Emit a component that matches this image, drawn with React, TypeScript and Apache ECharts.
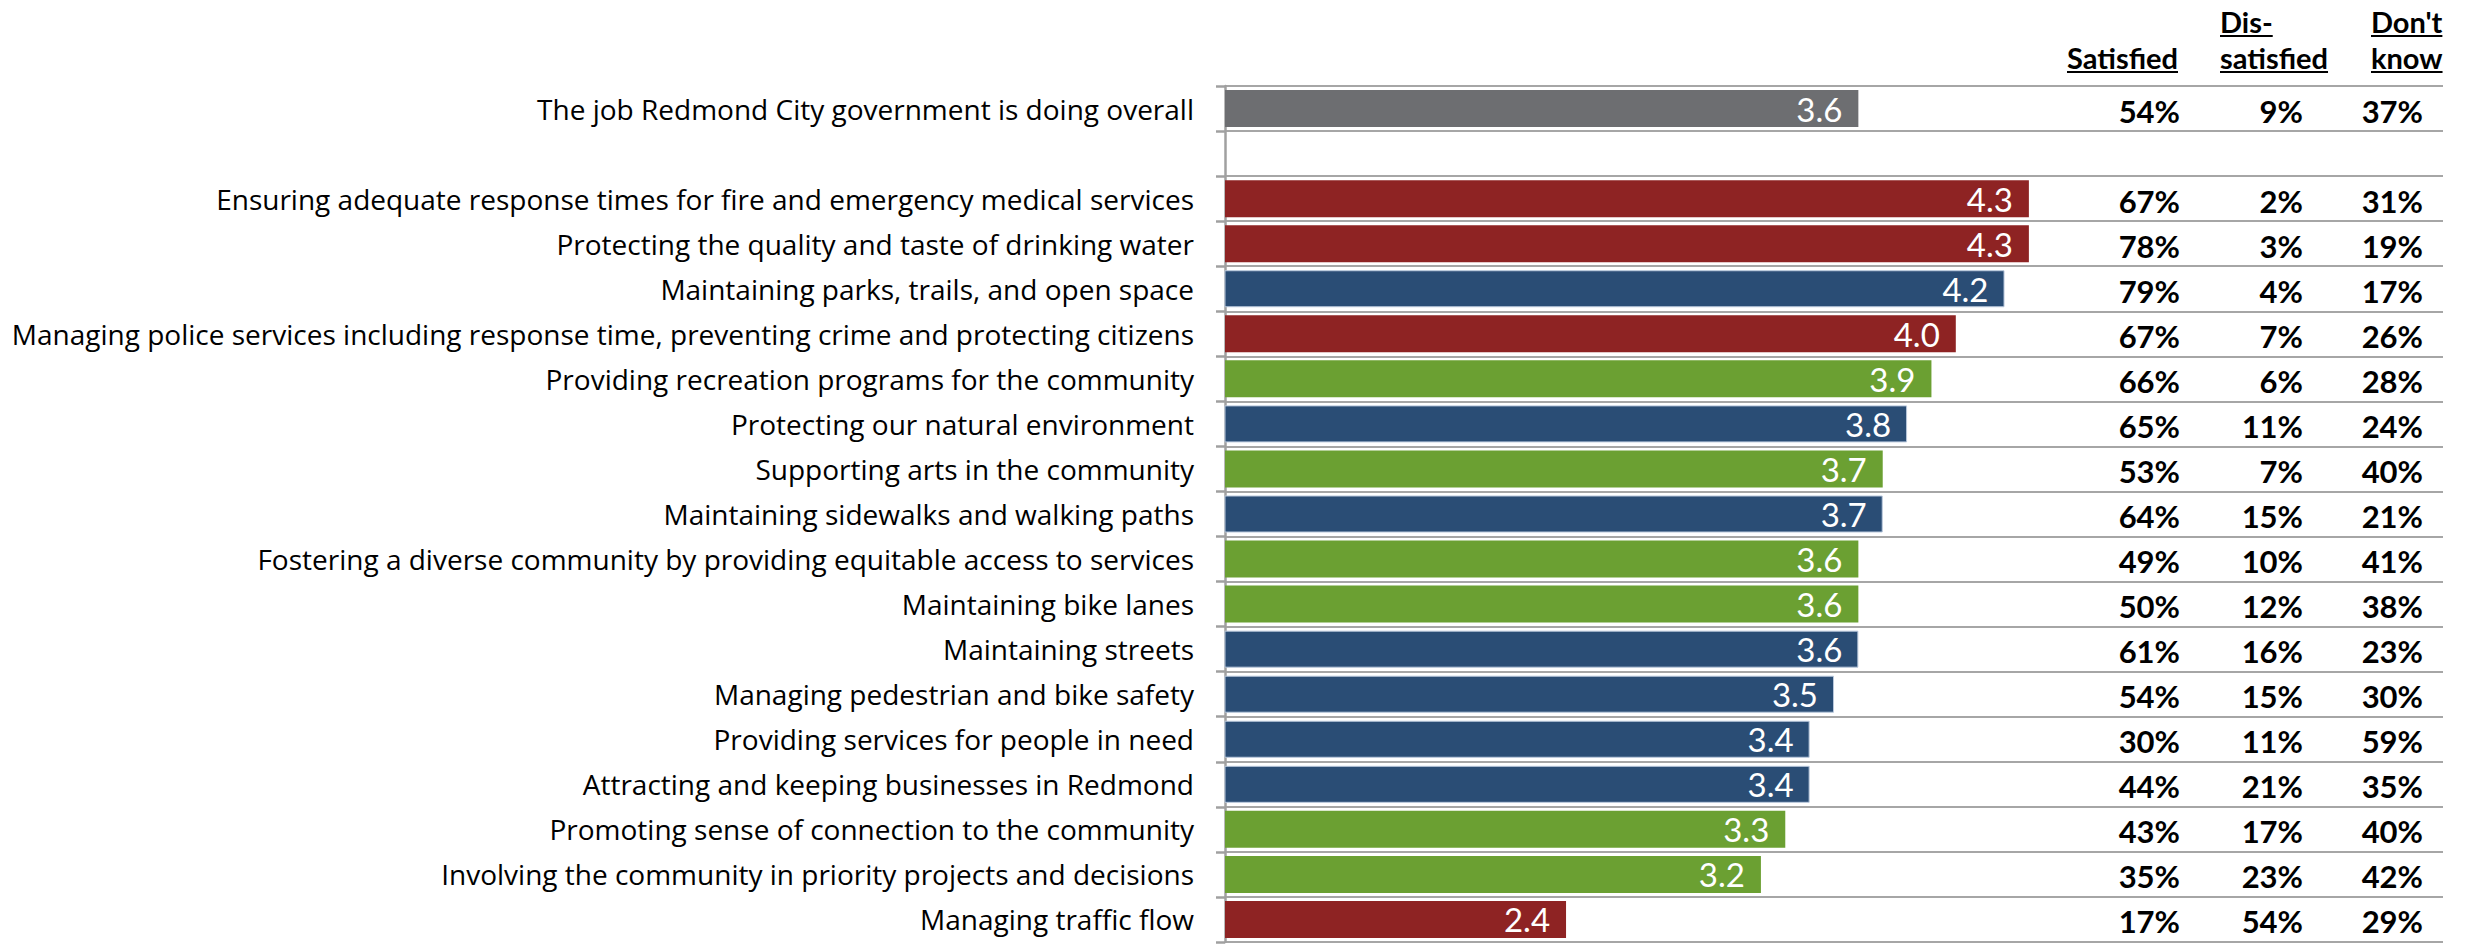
import React, { useEffect, useRef } from 'react';
import * as echarts from 'echarts';

// Service areas, top to bottom (the empty entry is a spacer row)
const CATEGORIES = [
  'The job Redmond City government is doing overall',
  '',
  'Ensuring adequate response times for fire and emergency medical services',
  'Protecting the quality and taste of drinking water',
  'Maintaining parks, trails, and open space',
  'Managing police services including response time, preventing crime and protecting citizens',
  'Providing recreation programs for the community',
  'Protecting our natural environment',
  'Supporting arts in the community',
  'Maintaining sidewalks and walking paths',
  'Fostering a diverse community by providing equitable access to services',
  'Maintaining bike lanes',
  'Maintaining streets',
  'Managing pedestrian and bike safety',
  'Providing services for people in need',
  'Attracting and keeping businesses in Redmond',
  'Promoting sense of connection to the community',
  'Involving the community in priority projects and decisions',
  'Managing traffic flow',
];

// Mean satisfaction score (1–5 scale)
const SCORES = [3.6, null, 4.3, 4.3, 4.2, 4.0, 3.9, 3.8, 3.7, 3.7, 3.6, 3.6, 3.6, 3.5, 3.4, 3.4, 3.3, 3.2, 2.4];

// Service group of each row, used for the bar colour
const GROUPS = [
  'overall', null, 'safety', 'safety', 'infrastructure', 'safety', 'community', 'infrastructure',
  'community', 'infrastructure', 'community', 'community', 'infrastructure', 'infrastructure',
  'infrastructure', 'infrastructure', 'community', 'community', 'safety',
];

const SATISFIED = [54, null, 67, 78, 79, 67, 66, 65, 53, 64, 49, 50, 61, 54, 30, 44, 43, 35, 17];
const DISSATISFIED = [9, null, 2, 3, 4, 7, 6, 11, 7, 15, 10, 12, 16, 15, 11, 21, 17, 23, 54];
const DONT_KNOW = [37, null, 31, 19, 17, 26, 28, 24, 40, 21, 41, 38, 23, 30, 59, 35, 40, 42, 29];

const COLUMN_HEADERS = [['Satisfied'], ['Dis-', 'satisfied'], ["Don't", 'know']];

const GROUP_COLORS: Record<string, string> = {
  overall: '#6D6E71',
  safety: '#8E2323',
  infrastructure: '#2A4D75',
  community: '#6BA032',
};

const LABEL_FONT = 'Open Sans';
const TABLE_FONT = 'Lato';
const GRID_LINE = '#A6A6A6';

// table column geometry: right edge of the percentages, header anchor and alignment
const COLUMNS = [
  { right: 2180, headerX: 2178, headerAlign: 'right' },
  { right: 2303, headerX: 2220, headerAlign: 'left' },
  { right: 2423, headerX: 2371, headerAlign: 'left' },
];
const HEADER_SIZE = 29;
const HEADER_LINE_Y = [21, 57];

export default function App() {
  const ref = useRef<HTMLDivElement>(null);

  useEffect(() => {
    document.body.style.margin = '0';
    const chart = echarts.init(ref.current!, null, { renderer: 'svg' });

    const barData = SCORES.map((v, i) => {
      const g = GROUPS[i];
      const color = g ? GROUP_COLORS[g] : '#000';
      return {
        value: v,
        itemStyle:
          g === 'infrastructure'
            ? { color, borderColor: '#B9C8DC', borderWidth: 1 }
            : { color },
      };
    });

    chart.setOption({
      animation: false,
      grid: { left: 1225, right: 22, top: 86, bottom: 2, containLabel: false },
      xAxis: {
        type: 'value',
        min: 1,
        max: 6,
        axisLine: { show: false },
        axisTick: { show: false },
        axisLabel: { show: false },
        splitLine: { show: false },
      },
      yAxis: {
        type: 'category',
        inverse: true,
        data: CATEGORIES,
        axisLine: { show: true, onZero: false, lineStyle: { color: '#A0A0A0', width: 2.5 } },
        axisTick: { show: true, inside: false, length: 9, lineStyle: { color: '#A0A0A0', width: 2.5 } },
        axisLabel: { margin: 31, color: '#000', fontSize: 28, fontFamily: LABEL_FONT },
        splitLine: { show: true, lineStyle: { color: GRID_LINE, width: 2 } },
      },
      series: [
        {
          type: 'bar',
          data: barData,
          barWidth: 37,
          label: {
            show: true,
            position: 'insideRight',
            distance: 16,
            color: '#fff',
            fontSize: 33,
            fontFamily: TABLE_FONT,
            formatter: (p: any) => (p.value == null ? '' : Number(p.value).toFixed(1)),
          },
        },
      ],
    });

    // Table of percentages to the right of the bars
    const ctx = document.createElement('canvas').getContext('2d')!;
    ctx.font = `bold ${HEADER_SIZE}px ${TABLE_FONT}`;
    const graphics: any[] = [];

    COLUMN_HEADERS.forEach((lines, c) => {
      const col = COLUMNS[c];
      const offset = 2 - lines.length;
      lines.forEach((text, li) => {
        const y = HEADER_LINE_Y[li + offset];
        const w = ctx.measureText(text).width;
        const x0 = col.headerAlign === 'right' ? col.headerX - w : col.headerX;
        graphics.push({
          type: 'text',
          x: col.headerX,
          y,
          style: {
            text,
            fill: '#000',
            fontSize: HEADER_SIZE,
            fontWeight: 'bold',
            fontFamily: TABLE_FONT,
            align: col.headerAlign,
            verticalAlign: 'middle',
          },
        });
        graphics.push({
          type: 'line',
          shape: { x1: x0, y1: y + 15, x2: x0 + w, y2: y + 15 },
          style: { stroke: '#000', lineWidth: 2 },
        });
      });
    });

    const columnsData = [SATISFIED, DISSATISFIED, DONT_KNOW];
    CATEGORIES.forEach((_, i) => {
      const y = chart.convertToPixel({ yAxisIndex: 0 }, i) as number;
      columnsData.forEach((values, c) => {
        const v = values[i];
        if (v == null) return;
        graphics.push({
          type: 'text',
          x: COLUMNS[c].right,
          y: y + 2,
          style: {
            text: `${v}%`,
            fill: '#000',
            fontSize: 31,
            fontWeight: 'bold',
            fontFamily: TABLE_FONT,
            align: 'right',
            verticalAlign: 'middle',
          },
        });
      });
    });

    chart.setOption({ graphic: graphics });

    return () => chart.dispose();
  }, []);

  return (
    <div
      ref={ref}
      style={{ position: 'absolute', left: 0, top: 0, width: 2465, height: 944 }}
    />
  );
}
